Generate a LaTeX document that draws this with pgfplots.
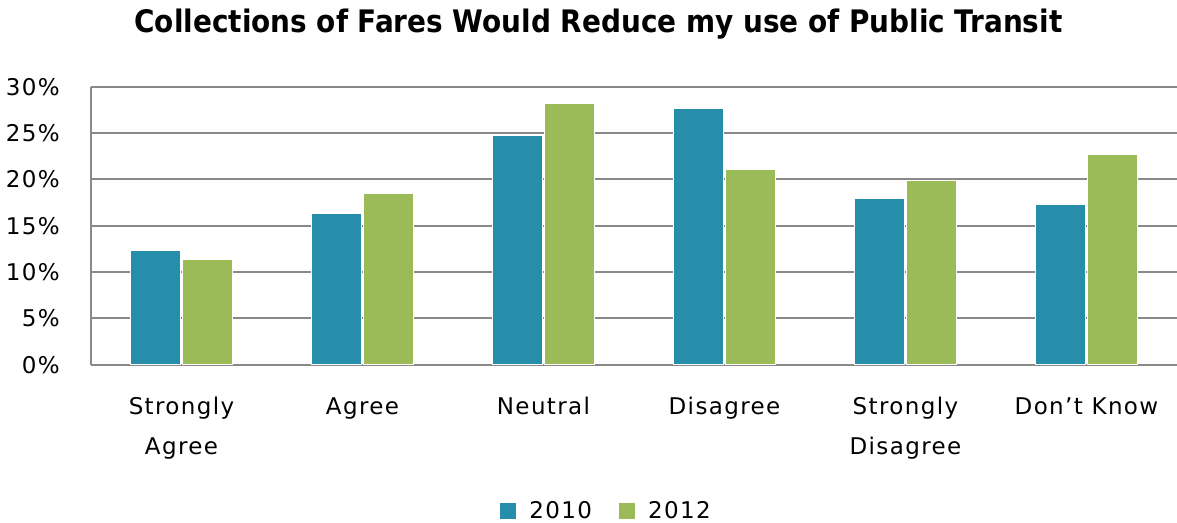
\documentclass[border=0pt]{standalone}
\usepackage{pgfplots}
\usepackage{pgfplotstable}
\pgfplotsset{compat=1.18}
\usepackage{fontspec}
\setmainfont{DejaVu Sans}[LetterSpace=6]
\newfontfamily\titlefont{DejaVu Sans Condensed}
\definecolor{c2010}{RGB}{38,142,171}
\definecolor{c2012}{RGB}{155,187,89}
\definecolor{gridc}{RGB}{137,137,137}
\pgfplotstableread{
x y10 y12
0 12.3 11.4
1 16.3 18.5
2 24.8 28.2
3 27.7 21.1
4 18.0 19.9
5 17.3 22.7
}\datatable
\begin{document}
\begin{tikzpicture}
\useasboundingbox (0,0) rectangle (1177bp,523bp);
\begin{axis}[
  at={(91bp,158.3bp)}, anchor=south west,
  scale only axis, width=1086bp, height=278bp,
  xmin=-0.5, xmax=5.5, ymin=0, ymax=30,
  ybar=2bp, bar width=50bp,
  axis lines*=left,
  axis line style={-, draw=gridc, line width=1.8bp},
  ytick={0,5,...,30},
  yticklabels={0\%,5\%,10\%,15\%,20\%,25\%,30\%},
  ymajorgrids, grid style={draw=gridc, line width=1.8bp},
  major tick length=0pt,
  xtick={0,...,5},
  xticklabels={Strongly\\Agree, Agree, Neutral, Disagree, Strongly\\Disagree, Don't Know},
  xticklabel style={align=center, anchor=north, inner sep=0pt, yshift=-32.5bp},
  yticklabel style={anchor=east, inner sep=0pt, xshift=-31bp},
  tick label style={font=\fontsize{23bp}{40bp}\selectfont},
  title={Collections of Fares Would Reduce my use of Public Transit},
  title style={at={(0.4673,1)}, anchor=base, yshift=48bp, inner sep=0pt,
    font=\titlefont\bfseries\fontsize{31bp}{36bp}\selectfont},
  legend columns=2,
  legend style={draw=none, fill=none, at={(0.4738,-0.526)}, anchor=center,
    inner sep=0pt, nodes={inner sep=0pt},
    font=\fontsize{23bp}{26bp}\selectfont,
    /tikz/every odd column/.append style={column sep=13bp},
    /tikz/every even column/.append style={column sep=27bp}},
  legend image code/.code={\fill[#1,draw=none] (0bp,-8bp) rectangle (16bp,8bp);},
]
\addplot[fill=c2010, draw=white, line width=1.5bp] table[x=x, y=y10] {\datatable};
\addplot[fill=c2012, draw=white, line width=1.5bp] table[x=x, y=y12] {\datatable};
\legend{2010, 2012}
\end{axis}
\end{tikzpicture}
\end{document}
